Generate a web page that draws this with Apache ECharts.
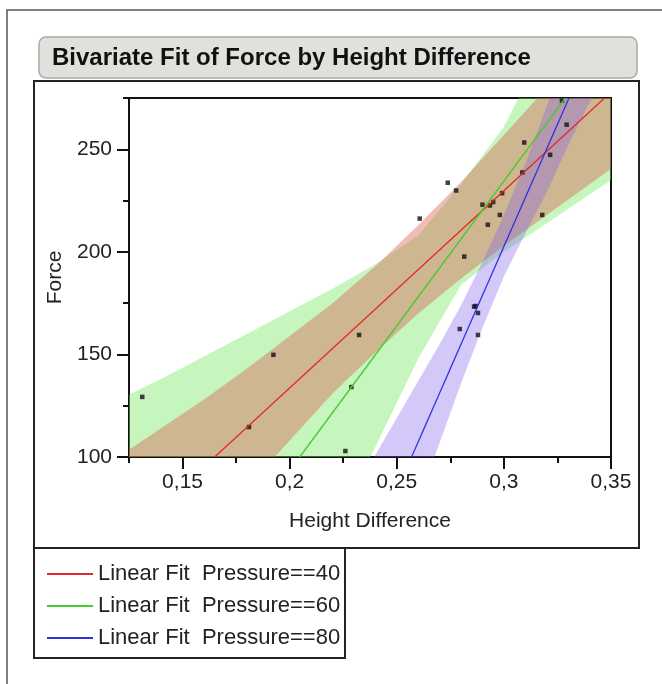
<!DOCTYPE html>
<html>
<head>
<meta charset="utf-8">
<script src="https://cdn.jsdelivr.net/npm/echarts@6/dist/echarts.min.js"></script>
<style>
  html, body { margin: 0; padding: 0; background: #fff; }
  #chart { width: 662px; height: 684px; }
</style>
</head>
<body>
<div id="chart"></div>
<script>
// observations
const heightDiff = [0.1312, 0.1810, 0.1924, 0.2260, 0.2288, 0.2324, 0.2607, 0.2738, 0.2777, 0.2794,
  0.2815, 0.2861, 0.2868, 0.2879, 0.2879, 0.2900, 0.2925, 0.2935, 0.2950, 0.2981,
  0.2992, 0.3086, 0.3095, 0.3179, 0.3216, 0.3271, 0.3293]
const force = [129.3, 114.6, 149.8, 102.9, 134.1, 159.5, 216.2, 233.7, 229.9, 162.4,
  197.7, 173.3, 173.6, 170.2, 159.5, 223.0, 213.2, 222.6, 224.3, 218.0,
  228.6, 238.7, 253.3, 218.0, 247.3, 273.7, 262.0]

// fitted lines, where they enter and leave the frame
const fit40X = [0.165, 0.347]
const fit40Y = [100, 275]
const fit60X = [0.2047, 0.3287]
const fit60Y = [100, 275]
const fit80X = [0.2569, 0.3304]
const fit80Y = [100, 275]

// shaded confidence bands (upper / lower edge)
const bandX = [0.12, 0.14, 0.16, 0.18, 0.20, 0.22, 0.24, 0.26, 0.28, 0.30, 0.32, 0.34, 0.36]
const band40Hi = [100, 114, 128, 143, 159, 175, 193, 213, 234, 257, 280, 304, 328]
const band40Lo = [13, 38, 62, 85, 108, 131, 151, 170, 187, 203, 218, 233, 248]
const band60Hi = [128, 138, 149, 160, 171, 182, 194, 208, 233, 261, 302, 346, 391]
const band60Lo = [-167, -121, -75, -30, 16, 61, 105, 148, 184, 200, 214, 228, 242]
const band80X = [0.22, 0.23, 0.24, 0.25, 0.26, 0.27, 0.28, 0.29, 0.30, 0.31, 0.32, 0.33, 0.34, 0.35]
const band80Hi = [67, 84, 101, 119, 137, 155, 174, 195, 218, 243, 271, 300, 330, 360]
const band80Lo = [-42, -12, 18, 48, 78, 107, 136, 163, 188, 209, 229, 252, 273, 290]

const xMajorTicks = [0.15, 0.2, 0.25, 0.3, 0.35]
const yMajorTicks = [100, 150, 200, 250]
const fitNames = ['Linear Fit  Pressure==40', 'Linear Fit  Pressure==60', 'Linear Fit  Pressure==80']

const FONT = '"Liberation Sans", Arial, sans-serif'
const chart = echarts.init(document.getElementById('chart'))

function band(xs, hi, lo, fill) {
  const rows = xs.map((x, i) => [x, lo[i], hi[i]])
  return {
    type: 'custom',
    clip: true,
    silent: true,
    data: rows,
    encode: { x: 0, y: [1, 2] },
    renderItem: (params, api) => {
      if (params.dataIndex !== 0) return null
      const top = rows.map((r) => api.coord([r[0], r[2]]))
      const bottom = rows.map((r) => api.coord([r[0], r[1]])).reverse()
      return { type: 'polygon', shape: { points: top.concat(bottom) }, style: { fill: fill } }
    },
  }
}

function fitLine(name, xs, ys, color) {
  return {
    name: name,
    type: 'line',
    color: color,
    symbol: 'none',
    data: xs.map((x, i) => [x, ys[i]]),
    lineStyle: { color: color, width: 1.3 },
  }
}

const axisColor = '#111'
const labelStyle = { fontSize: 21, color: '#222', fontFamily: FONT }

const option = {
  animation: false,
  grid: { left: 129, top: 98, width: 482, height: 359, show: true, borderColor: axisColor, borderWidth: 2 },
  xAxis: [
    {
      type: 'value', min: 0.125, max: 0.35, interval: 0.025, position: 'bottom',
      axisLine: { lineStyle: { color: axisColor, width: 2 } },
      axisTick: { length: 6, lineStyle: { color: axisColor, width: 2 } },
      axisLabel: { show: false },
      splitLine: { show: false },
    },
    {
      type: 'value', min: 0.125, max: 0.35, position: 'bottom',
      axisLine: { show: false },
      axisTick: { length: 12, customValues: xMajorTicks, lineStyle: { color: axisColor, width: 2 } },
      axisLabel: Object.assign({ customValues: xMajorTicks, margin: 15, formatter: (v) => String(v).replace('.', ',') }, labelStyle),
      splitLine: { show: false },
      name: 'Height Difference', nameLocation: 'middle', nameGap: 54,
      nameTextStyle: { fontSize: 21, color: '#222', fontFamily: FONT },
    },
  ],
  yAxis: [
    {
      type: 'value', min: 100, max: 275, interval: 25, position: 'left',
      axisLine: { lineStyle: { color: axisColor, width: 2 } },
      axisTick: { length: 6, lineStyle: { color: axisColor, width: 2 } },
      axisLabel: { show: false },
      splitLine: { show: false },
    },
    {
      type: 'value', min: 100, max: 275, position: 'left',
      axisLine: { show: false },
      axisTick: { length: 12, customValues: yMajorTicks, lineStyle: { color: axisColor, width: 2 } },
      axisLabel: Object.assign({ customValues: yMajorTicks, margin: 17 }, labelStyle),
      splitLine: { show: false },
      name: 'Force', nameLocation: 'middle', nameGap: 59,
      nameTextStyle: { fontSize: 21, color: '#222', fontFamily: FONT },
    },
  ],
  legend: {
    data: fitNames,
    orient: 'vertical',
    left: 42,
    top: 558,
    icon: 'rect',
    itemWidth: 46,
    itemHeight: 2,
    itemGap: 10,
    textStyle: { fontSize: 22, lineHeight: 22, color: '#222', fontFamily: FONT },
  },
  graphic: [
    { type: 'rect', shape: { x: 7, y: 10, width: 700, height: 700 }, style: { fill: null, stroke: '#555', lineWidth: 1.5 } },
    { type: 'rect', shape: { x: 39, y: 37, width: 598, height: 41, r: 7 }, style: { fill: '#dfe1dc', stroke: '#a8aba5', lineWidth: 1.5 } },
    { type: 'text', x: 52, y: 58, style: { text: 'Bivariate Fit of Force by Height Difference', font: 'bold 24px ' + FONT, fill: '#111', verticalAlign: 'middle' } },
    { type: 'rect', shape: { x: 34, y: 81, width: 605, height: 467 }, style: { fill: null, stroke: '#222', lineWidth: 2 } },
    { type: 'rect', shape: { x: 34, y: 548, width: 311, height: 110 }, style: { fill: null, stroke: '#222', lineWidth: 2 } },
  ],
  series: [
    band(bandX, band60Hi, band60Lo, 'rgba(120,232,100,0.42)'),
    band(bandX, band40Hi, band40Lo, 'rgba(217,87,78,0.4)'),
    band(band80X, band80Hi, band80Lo, 'rgba(125,95,235,0.34)'),
    fitLine(fitNames[0], fit40X, fit40Y, '#e4282c'),
    fitLine(fitNames[1], fit60X, fit60Y, '#46cc30'),
    fitLine(fitNames[2], fit80X, fit80Y, '#3232e0'),
    {
      type: 'scatter',
      symbol: 'rect',
      symbolSize: 4.5,
      itemStyle: { color: '#111' },
      data: heightDiff.map((x, i) => [x, force[i]]),
    },
  ],
}

chart.setOption(option)
</script>
</body>
</html>
